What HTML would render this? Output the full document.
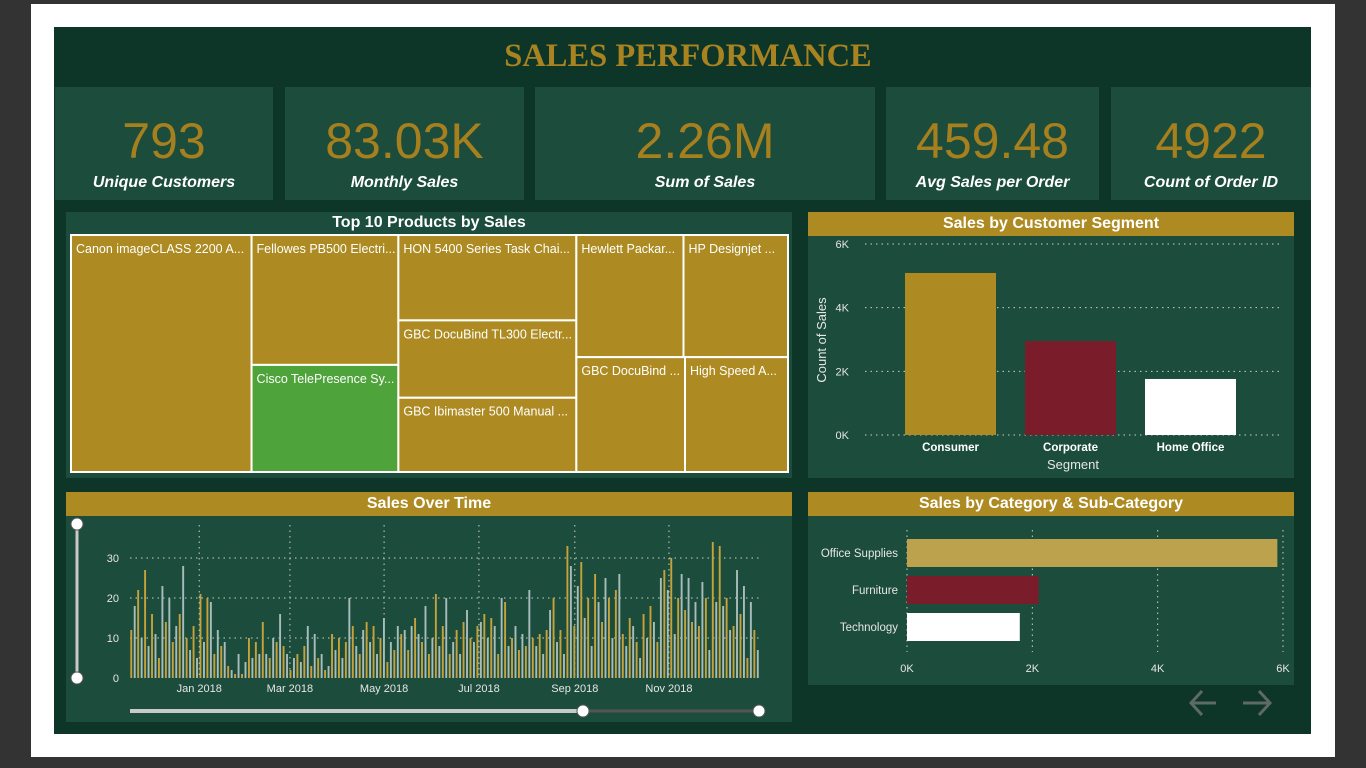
<!DOCTYPE html>
<html><head><meta charset="utf-8">
<style>
*{margin:0;padding:0;box-sizing:border-box}
body{width:1366px;height:768px;background:#333;position:relative;overflow:hidden;font-family:"Liberation Sans","DejaVu Sans",sans-serif}
.abs{position:absolute}
.kpi{position:absolute;top:87px;height:113px;background:#1c4c3c;text-align:center;color:#fff}
.kpi .v{position:absolute;left:0;right:0;top:26px;font-size:50px;color:#a67f1e;line-height:56px}
.kpi .l{position:absolute;left:0;right:0;top:86px;font-size:16px;font-style:italic;font-weight:bold;line-height:20px}
.panel{position:absolute;background:#1c4c3c}
.ptitle{position:absolute;left:0;right:0;top:0;height:24px;background:#ad8b22;color:#fff;font-weight:bold;font-size:16px;text-align:center;line-height:24px}
svg text{font-family:"Liberation Sans",sans-serif}
</style></head><body>
<div class="abs" style="left:31px;top:4px;width:1304px;height:753px;background:#fff"></div>
<div class="abs" style="left:54px;top:27px;width:1257px;height:707px;background:#0d3629"></div>
<div class="abs" style="left:54px;top:33px;width:1268px;text-align:center;font-family:'Liberation Serif',serif;font-weight:bold;font-size:32.5px;color:#a88320;line-height:46px">SALES PERFORMANCE</div>

<div class="kpi" style="left:55px;width:218px"><div class="v">793</div><div class="l">Unique Customers</div></div>
<div class="kpi" style="left:285px;width:239px"><div class="v">83.03K</div><div class="l">Monthly Sales</div></div>
<div class="kpi" style="left:535px;width:340px"><div class="v">2.26M</div><div class="l">Sum of Sales</div></div>
<div class="kpi" style="left:886px;width:213px"><div class="v">459.48</div><div class="l">Avg Sales per Order</div></div>
<div class="kpi" style="left:1111px;width:200px"><div class="v">4922</div><div class="l">Count of Order ID</div></div>

<div class="panel" style="left:66px;top:212px;width:726px;height:266px">
  <div class="abs" style="left:0;right:0;top:0;height:22px;text-align:center;color:#fff;font-weight:bold;font-size:16px;line-height:22px">Top 10 Products by Sales</div>
  <svg id="tm" class="abs" style="left:0;top:0" width="726" height="266"></svg>
</div>

<div class="panel" style="left:808px;top:212px;width:486px;height:266px">
  <div class="ptitle">Sales by Customer Segment</div>
  <svg id="seg" class="abs" style="left:0;top:0" width="486" height="266"></svg>
</div>

<div class="panel" style="left:66px;top:492px;width:726px;height:230px">
  <div class="ptitle">Sales Over Time</div>
  <svg id="ts" class="abs" style="left:0;top:0" width="726" height="230"></svg>
</div>

<div class="panel" style="left:808px;top:492px;width:486px;height:193px">
  <div class="ptitle">Sales by Category &amp; Sub-Category</div>
  <svg id="cat" class="abs" style="left:0;top:0" width="486" height="193"></svg>
</div>

<svg class="abs" style="left:1180px;top:685px" width="100" height="40">
  <g stroke="#5d6b64" stroke-width="3" fill="none"><path d="M36 18 H11 M22 6 L11 18 L22 30"/></g>
  <g stroke="#5d6b64" stroke-width="3" fill="none"><path d="M63 18 H90 M79 6 L90 18 L79 30"/></g>
</svg>

<script>
const NS='http://www.w3.org/2000/svg';
function mk(p,t,a,txt){const e=document.createElementNS(NS,t);for(const k in a)e.setAttribute(k,a[k]);if(txt!==undefined)e.textContent=txt;p.appendChild(e);return e;}

// ---------- Treemap ----------
const tmProducts=["Canon imageCLASS 2200 A...","Fellowes PB500 Electri...","Cisco TelePresence Sy...","HON 5400 Series Task Chai...","GBC DocuBind TL300 Electr...","GBC Ibimaster 500 Manual ...","Hewlett Packar...","HP Designjet ...","GBC DocuBind ...","High Speed A..."];
const tmSales=[61600,27453,22638,21871,19823,19024,18840,18375,17965,17030];
(function(){
  const svg=document.getElementById('tm');
  const X0=5,Y0=23,W=717,H=237;
  const total=tmSales.reduce((a,b)=>a+b,0);
  const cols=[[0],[1,2],[3,4,5],[6,7,8,9]];
  let x=X0;
  const rects=[];
  cols.forEach((c,ci)=>{
    const s=c.reduce((a,i)=>a+tmSales[i],0);
    const w=W*s/total;
    if(ci<3){
      let y=Y0;
      c.forEach(i=>{const h=H*tmSales[i]/s;rects.push([i,x,y,w,h]);y+=h;});
    } else {
      const r1=tmSales[6]+tmSales[7],r2=tmSales[8]+tmSales[9];
      const h1=H*r1/s,h2=H*r2/s;
      const w6=w*tmSales[6]/r1, w8=w*tmSales[8]/r2;
      rects.push([6,x,Y0,w6,h1]);rects.push([7,x+w6,Y0,w-w6,h1]);
      rects.push([8,x,Y0+h1,w8,h2]);rects.push([9,x+w8,Y0+h1,w-w8,h2]);
    }
    x+=w;
  });
  rects.forEach(([i,rx,ry,rw,rh])=>{
    const g=mk(svg,'g',{});
    
    
    mk(g,'rect',{x:rx,y:ry,width:rw,height:rh,fill:i===2?'#4ea43a':'#ad8b22',stroke:'#fff','stroke-width':2});
    mk(g,'text',{x:rx+5,y:ry+18,fill:'#fff','font-size':12.5},tmProducts[i]);
  });
})();

// ---------- Segment bar chart ----------
const segCats=["Consumer","Corporate","Home Office"];
const segVals=[5090,2950,1760];
const segTicks=[0,2000,4000,6000];
const segTickLabels=["0K","2K","4K","6K"];
(function(){
  const svg=document.getElementById('seg');
  const y0=223,y1=32,max=6000;
  const ys=v=>y0-(y0-y1)*v/max;
  segTicks.forEach((t,k)=>{
    mk(svg,'line',{x1:57,x2:486-14,y1:ys(t),y2:ys(t),stroke:'#c8d0cc','stroke-width':1,'stroke-dasharray':'1.5 4'});
    mk(svg,'text',{x:41,y:ys(t)+4,fill:'#e6e6e6','font-size':11,'text-anchor':'end'},segTickLabels[k]);
  });
  const cols=['#ad8b22','#7a1c29','#ffffff'];
  const band=120,bw=91,start=85;
  segCats.forEach((c,i)=>{
    const cx=start+band*i+bw/2+12;
    const r=mk(svg,'rect',{x:cx-bw/2,y:ys(segVals[i]),width:bw,height:y0-ys(segVals[i]),fill:cols[i]});
    
    
    mk(svg,'text',{x:cx,y:239,fill:'#fff','font-size':11.5,'font-weight':'bold','text-anchor':'middle'},c);
  });
  mk(svg,'text',{x:265,y:257,fill:'#e6e6e6','font-size':13,'text-anchor':'middle'},'Segment');
  mk(svg,'text',{x:0,y:0,fill:'#e6e6e6','font-size':13,'text-anchor':'middle',transform:'translate(18,128) rotate(-90)'},'Count of Sales');
})();

// ---------- Category bar chart ----------
const catCats=["Office Supplies","Furniture","Technology"];
const catVals=[5910,2100,1800];
const catTicks=[0,2000,4000,6000];
const catTickLabels=["0K","2K","4K","6K"];
(function(){
  const svg=document.getElementById('cat');
  const x0=99,x1=475,max=6000;
  const xs=v=>x0+(x1-x0)*v/max;
  catTicks.forEach((t,k)=>{
    mk(svg,'line',{x1:xs(t),x2:xs(t),y1:38,y2:160,stroke:'#c8d0cc','stroke-width':1,'stroke-dasharray':'1.5 4'});
    mk(svg,'text',{x:xs(t),y:180,fill:'#e6e6e6','font-size':11,'text-anchor':'middle'},catTickLabels[k]);
  });
  const cols=['#bca24c','#7a1c29','#ffffff'];
  catCats.forEach((c,i)=>{
    const y=47+i*37;
    const r=mk(svg,'rect',{x:x0,y:y,width:xs(catVals[i])-x0,height:28,fill:cols[i]});
    
    
    mk(svg,'text',{x:90,y:y+18,fill:'#e6e6e6','font-size':11.5,'text-anchor':'end'},c);
  });
})();

// ---------- Sales over time ----------
const tsValues=[12,18,22,10,27,8,16,11,5,23,14,20,9,13,16,28,10,7,13,5,21,9,20,19,6,12,8,9,3,2,1,6,1,4,10,5,9,6,14,6,5,10,9,16,8,6,2,5,6,4,8,13,3,11,5,6,2,3,11,7,10,5,9,20,13,8,6,12,14,9,13,6,10,15,4,9,7,13,11,12,7,13,15,11,9,18,6,10,21,8,13,20,6,9,12,6,14,17,10,9,13,14,16,10,15,13,6,20,19,8,10,13,7,11,8,22,10,8,11,6,12,17,20,9,12,6,33,28,13,23,29,15,20,8,26,19,14,25,20,10,22,26,11,8,15,13,9,5,16,10,18,14,9,25,27,22,30,11,20,26,17,25,14,19,13,24,20,7,34,19,33,18,20,12,13,27,16,23,5,19,12,7];
const tsTicks=[0,10,20,30];
const tsMonths=["Jan 2018","Mar 2018","May 2018","Jul 2018","Sep 2018","Nov 2018"];
const tsMonthIdx=[20,46.2,73.4,100.8,128.5,155.7];
(function(){
  const svg=document.getElementById('ts');
  const y0=186,yTop=66,max=30;
  const xL=64,xR=694,n=tsValues.length;
  const ys=v=>y0-(y0-yTop)*v/max;
  const xs=i=>xL+(xR-xL)*i/n;
  tsTicks.forEach(t=>{
    mk(svg,'line',{x1:64,x2:694,y1:ys(t),y2:ys(t),stroke:'#c8d0cc','stroke-width':1,'stroke-dasharray':'1.5 4',opacity:t===0?0:1});
    mk(svg,'text',{x:53,y:ys(t)+4,fill:'#e6e6e6','font-size':11,'text-anchor':'end'},String(t));
  });
  tsMonths.forEach((m,k)=>{
    const x=xs(tsMonthIdx[k]);
    mk(svg,'line',{x1:x,x2:x,y1:33,y2:186,stroke:'#c8d0cc','stroke-width':1,'stroke-dasharray':'1.5 4'});
    mk(svg,'text',{x:x,y:200,fill:'#e6e6e6','font-size':11,'text-anchor':'middle'},m);
  });
  const bw=(xR-xL)/n;
  tsValues.forEach((v,i)=>{
    const r=mk(svg,'rect',{x:xs(i)+0.3,y:ys(v),width:Math.max(1,bw*0.55),height:y0-ys(v),fill:i%2?'#a9bcbc':'#c6a23a'});
    
    
  });
  mk(svg,'line',{x1:11,x2:11,y1:32,y2:186,stroke:'#c9c9c9','stroke-width':3});
  mk(svg,'circle',{cx:11,cy:32,r:6,fill:'#fff',stroke:'#555'});
  mk(svg,'circle',{cx:11,cy:186,r:6,fill:'#fff',stroke:'#555'});
  mk(svg,'line',{x1:64,x2:517,y1:219,y2:219,stroke:'#c9c9c9','stroke-width':4});
  mk(svg,'line',{x1:517,x2:693,y1:219,y2:219,stroke:'#555','stroke-width':3});
  const h1=mk(svg,'circle',{cx:517,cy:219,r:6,fill:'#fff',stroke:'#555'});
  
  
  const h2=mk(svg,'circle',{cx:693,cy:219,r:6,fill:'#fff',stroke:'#555'});
  
  
})();
</script>
</body></html>
